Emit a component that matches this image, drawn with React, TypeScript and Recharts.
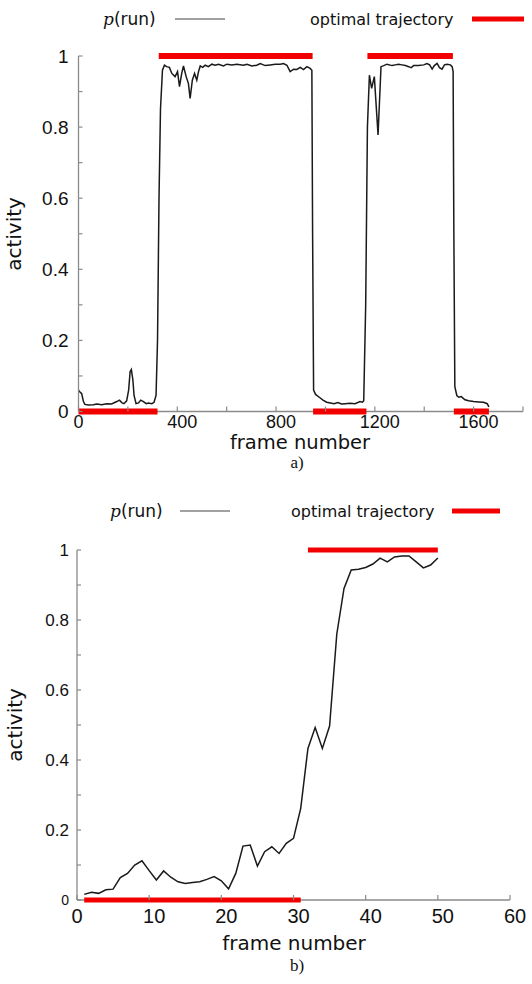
import React from 'react'
import { LineChart, Line, XAxis, YAxis } from 'recharts'

// a) long sequence, sampled where the curve changes
const topFrame = [
  0, 6, 13, 20, 26, 40, 60, 74, 94, 114, 134, 155, 166, 175, 184, 195, 203, 209, 214, 220,
  225, 233, 243, 252, 263, 274, 283, 297, 306, 314, 320, 326, 332, 340, 348, 357, 368, 378,
  391, 401, 409, 418, 425, 436, 445, 452, 461, 470, 479, 486, 493, 503, 513, 526, 540, 553,
  567, 587, 601, 621, 641, 668, 682, 702, 722, 736, 756, 776, 797, 817, 830, 844, 857, 871,
  884, 898, 911, 925, 938, 945, 948, 952, 960, 975, 990, 1005, 1020, 1035, 1050, 1065, 1080,
  1100, 1120, 1140, 1150, 1155, 1163, 1170, 1178, 1187, 1198, 1213, 1225, 1236, 1249, 1270,
  1283, 1296, 1310, 1324, 1337, 1347, 1357, 1377, 1398, 1411, 1422, 1432, 1441, 1452, 1462,
  1472, 1482, 1492, 1506, 1513, 1517, 1520, 1524, 1532, 1540, 1550, 1565, 1580, 1600, 1620,
  1640, 1655, 1662,
]
const topP = [
  0.06, 0.055, 0.05, 0.028, 0.02, 0.018, 0.019, 0.021, 0.019, 0.022, 0.021, 0.028, 0.032, 0.025, 0.022, 0.03, 0.06, 0.112, 0.118, 0.09,
  0.045, 0.022, 0.024, 0.032, 0.028, 0.022, 0.024, 0.022, 0.026, 0.045, 0.2, 0.6, 0.85, 0.96, 0.974, 0.97, 0.968, 0.951,
  0.942, 0.956, 0.914, 0.951, 0.972, 0.942, 0.923, 0.881, 0.932, 0.951, 0.932, 0.956, 0.972, 0.968, 0.974, 0.97, 0.977, 0.974,
  0.977, 0.972, 0.977, 0.975, 0.977, 0.974, 0.977, 0.972, 0.974, 0.979, 0.973, 0.975, 0.977, 0.977, 0.979, 0.974, 0.956, 0.963,
  0.962, 0.968, 0.962, 0.97, 0.965, 0.96, 0.5, 0.06, 0.048, 0.04, 0.032, 0.026, 0.024, 0.022, 0.025, 0.021, 0.022,
  0.023, 0.022, 0.028, 0.026, 0.03, 0.3, 0.8, 0.946, 0.909, 0.942, 0.778, 0.97, 0.973, 0.977, 0.973,
  0.975, 0.977, 0.975, 0.973, 0.97, 0.967, 0.973, 0.973, 0.975, 0.979, 0.975, 0.963, 0.973, 0.979, 0.967,
  0.963, 0.975, 0.977, 0.975, 0.97, 0.956, 0.5, 0.07, 0.045, 0.04, 0.042, 0.033, 0.03, 0.028, 0.027,
  0.026, 0.022, 0.013,
]
const topOptStart = [0, 325, 950, 1170, 1520]
const topOptEnd = [320, 948, 1166, 1516, 1662]
const topOptLevel = [0, 1, 0, 1, 0]
const topXDomain = [0, 1800]
const topXTicks = [0, 200, 400, 600, 800, 1000, 1200, 1400, 1600, 1800]
const topXLabels = [0, 400, 800, 1200, 1600]

// b) short sequence
const botFrame = [
  1, 2, 3, 4, 5, 6, 7, 8, 9, 10, 11, 12, 13, 14, 15, 16, 17, 18, 19, 20, 21, 22, 23, 24, 25,
  26, 27, 28, 29, 30, 31, 32, 33, 34, 35, 36, 37, 38, 39, 40, 41, 42, 43, 44, 45, 46, 47, 48, 49, 50,
]
const botP = [
  0.016, 0.022, 0.019, 0.029, 0.031, 0.064, 0.076, 0.1, 0.112, 0.084, 0.057, 0.083, 0.065, 0.052, 0.047,
  0.05, 0.052, 0.059, 0.067, 0.055, 0.032, 0.076, 0.154, 0.157, 0.097, 0.138, 0.152, 0.133, 0.162, 0.176,
  0.262, 0.433, 0.493, 0.433, 0.497, 0.76, 0.89, 0.943, 0.945, 0.95, 0.96, 0.977, 0.966, 0.98, 0.983,
  0.983, 0.966, 0.949, 0.957, 0.977,
]
const botOptStart = [1, 32]
const botOptEnd = [31, 50]
const botOptLevel = [0, 1]
const botXDomain = [0, 60]
const botXTicks = [0, 10, 20, 30, 40, 50, 60]

const yTicks = [0, 0.1, 0.2, 0.3, 0.4, 0.5, 0.6, 0.7, 0.8, 0.9, 1]
const yLabels = [0, 0.2, 0.4, 0.6, 0.8, 1]

const AXIS = '#8a8a8a'
const RED = '#f20000'
const INK = '#1a1a1a'
const TICK_FONT = '"Liberation Sans", Arial, sans-serif'
const TITLE_FONT = '"DejaVu Sans", sans-serif'

const topData = topFrame.map((f, i) => ({ f, p: topP[i] }))
const botData = botFrame.map((f, i) => ({ f, p: botP[i] }))
const segs = (s: number[], e: number[], l: number[]) =>
  s.map((x, i) => [{ f: x, p: l[i] }, { f: e[i], p: l[i] }])
// x axis line drawn as a series so the red bars can sit on top of it
const baseline = (d: number[]) => d.map((f) => ({ f, p: 0 }))

const fmtY = (v: number) => (v === 0 ? '0' : v === 1 ? '1' : v.toFixed(1))

function YTick({ x, y, payload, fs, gap }: any) {
  const v = payload.value
  const show = yLabels.includes(v)
  // axis sits at x + gap; tick points into the plot
  return (
    <g>
      <line x1={x + gap} x2={x + gap + 4} y1={y} y2={y} stroke={AXIS} strokeWidth={1.2} />
      {show && (
        <text x={x} y={y} dy="0.35em" textAnchor="end" fontFamily={TICK_FONT}
          fontSize={v === 0 && fs < 18 ? 14 : fs} fill="#111">
          {fmtY(v)}
        </text>
      )}
    </g>
  )
}

function XTick({ x, y, payload, labels, fs, dy }: any) {
  const v = payload.value
  const show = !labels || labels.includes(v)
  return (
    <g>
      <line x1={x} x2={x} y1={y} y2={y - 5} stroke={AXIS} strokeWidth={1.2} />
      {show && (
        <text x={x + (v === 0 ? 0 : 5)} y={y + dy} textAnchor="middle" fontFamily={TICK_FONT} fontSize={fs} fill="#111">
          {v}
        </text>
      )}
    </g>
  )
}

function Legend({ y, pX, lineX, optX, redX, redW }: any) {
  return (
    <g>
      <text x={pX} y={y + 6} fontSize={17} fill="#111">
        <tspan fontFamily='"DejaVu Serif", serif' fontStyle="italic">p</tspan>
        <tspan fontFamily={TITLE_FONT}>(run)</tspan>
      </text>
      <line x1={lineX} x2={lineX + 50} y1={y} y2={y} stroke="#444" strokeWidth={1.2} />
      <text x={optX} y={y + 6} fontFamily={TITLE_FONT} fontSize={16} fill="#111">optimal trajectory</text>
      <line x1={redX} x2={redX + redW} y1={y} y2={y} stroke={RED} strokeWidth={5} />
    </g>
  )
}

export default function App() {
  const page: React.CSSProperties = { position: 'absolute', left: 0, top: 0, width: 532, height: 984, background: '#fff' }
  return (
    <div style={page}>
      {/* a) */}
      <div style={{ position: 'absolute', left: 0, top: 0 }}>
        <LineChart width={532} height={445} data={topData} margin={{ top: 56, right: 9, left: 18.5, bottom: 3.5 }}>
          <XAxis dataKey="f" type="number" domain={topXDomain} ticks={topXTicks} interval={0}
            axisLine={false} tickLine={false} tickSize={0} tickMargin={0} height={30}
            tick={<XTick labels={topXLabels} fs={18} dy={16} />} />
          <YAxis type="number" domain={[0, 1]} ticks={yTicks} interval={0} width={60}
            stroke={AXIS} strokeWidth={1.3} tickLine={false} tickSize={0} tickMargin={10}
            tick={<YTick fs={19} gap={10} />} />
          <Line data={baseline(topXDomain)} dataKey="p" stroke={AXIS} strokeWidth={1.3} dot={false}
            isAnimationActive={false} />
          <Line dataKey="p" type="linear" stroke={INK} strokeWidth={1.5} dot={false} isAnimationActive={false} />
          {segs(topOptStart, topOptEnd, topOptLevel).map((d, i) => (
            <Line key={i} data={d} dataKey="p" type="linear" stroke={RED} strokeWidth={6}
              dot={false} isAnimationActive={false} />
          ))}
        </LineChart>
      </div>

      {/* b) */}
      <div style={{ position: 'absolute', left: 0, top: 490 }}>
        <LineChart width={532} height={445} data={botData} margin={{ top: 60, right: 22, left: 17, bottom: 5 }}>
          <XAxis dataKey="f" type="number" domain={botXDomain} ticks={botXTicks} interval={0}
            axisLine={false} tickLine={false} tickSize={0} tickMargin={0} height={30}
            tick={<XTick fs={20} dy={23} />} />
          <YAxis type="number" domain={[0, 1]} ticks={yTicks} interval={0} width={60}
            stroke={AXIS} strokeWidth={1.3} tickLine={false} tickSize={0} tickMargin={8}
            tick={<YTick fs={17} gap={8} />} />
          <Line data={baseline(botXDomain)} dataKey="p" stroke={AXIS} strokeWidth={1.3} dot={false}
            isAnimationActive={false} />
          <Line dataKey="p" type="linear" stroke={INK} strokeWidth={1.5} dot={false} isAnimationActive={false} />
          {segs(botOptStart, botOptEnd, botOptLevel).map((d, i) => (
            <Line key={i} data={d} dataKey="p" type="linear" stroke={RED} strokeWidth={5}
              dot={false} isAnimationActive={false} />
          ))}
        </LineChart>
      </div>

      {/* titles, legends, captions */}
      <svg width={532} height={984} style={{ position: 'absolute', left: 0, top: 0, pointerEvents: 'none' }}>
        <Legend y={19} pX={103} lineX={175} optX={310} redX={472} redW={52} />
        <Legend y={511} pX={110} lineX={180} optX={291} redX={452} redW={48} />
        <text transform="translate(21,234) rotate(-90)" textAnchor="middle" fontFamily={TITLE_FONT} fontSize={20} fill="#111">activity</text>
        <text transform="translate(22,725) rotate(-90)" textAnchor="middle" fontFamily={TITLE_FONT} fontSize={20} fill="#111">activity</text>
        <text x={300} y={449} textAnchor="middle" fontFamily={TITLE_FONT} fontSize={19.5} fill="#111">frame number</text>
        <text x={294} y={950} textAnchor="middle" fontFamily={TITLE_FONT} fontSize={20} fill="#111">frame number</text>
        <text x={297} y={468} textAnchor="middle" fontFamily='"Liberation Serif", serif' fontSize={17} fill="#111">a)</text>
        <text x={297} y={971} textAnchor="middle" fontFamily='"Liberation Serif", serif' fontSize={17} fill="#111">b)</text>
      </svg>
    </div>
  )
}
